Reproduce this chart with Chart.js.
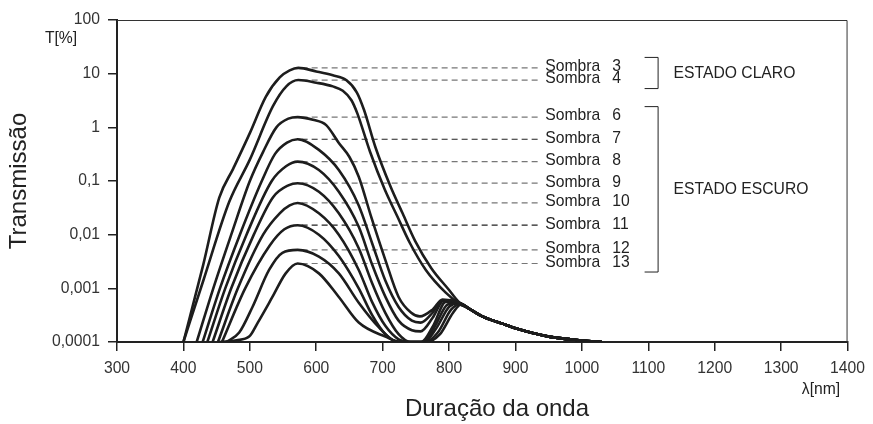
<!DOCTYPE html>
<html>
<head>
<meta charset="utf-8">
<script src="https://cdn.jsdelivr.net/npm/chart.js@4.4.0/dist/chart.umd.min.js"></script>
<style>
  body { margin: 0; background: #fff; }
  #wrap { width: 873px; height: 424px; position: relative; }
</style>
</head>
<body>
<div id="wrap"><canvas id="transmChart"></canvas></div>
<script>
// curvas: [comprimento de onda nm, T %]
var sombra3 = [[400,0.0001],[430,0.0028],[454,0.049],[475,0.17],[500,0.78],[524,3.7],[545,8.5],[560,11.5],[573,12.8],[600,11],[625,9.3],[645,7.6],[661,4.5],[672,2.1],[689,0.43],[712,0.078],[730,0.025],[749,0.0076],[773,0.0024],[800,0.00093],[815,0.00055]];
var sombra4 = [[400,0.0001],[430,0.0014],[469,0.041],[500,0.25],[535,2.5],[555,5.8],[573,7.6],[600,6.8],[625,5.8],[640,4.8],[653,3.2],[662,1.8],[681,0.35],[703,0.07],[722,0.022],[741,0.007],[765,0.0022],[795,0.00083],[815,0.00052]];
var sombra6 = [[420,0.0001],[445,0.001],[472,0.01],[500,0.1],[520,0.35],[540,1.0],[558,1.45],[572,1.55],[595,1.38],[615,1.1],[634,0.51],[650,0.28],[664,0.12],[683,0.021],[704,0.0034],[724,0.00069],[743,0.00035],[756,0.0003],[775,0.0004],[790,0.00062],[815,0.00054]];
var sombra7 = [[429,0.0001],[455,0.001],[485,0.01],[518,0.1],[538,0.32],[556,0.52],[572,0.6],[604,0.38],[634,0.16],[664,0.035],[684,0.007],[704,0.0014],[724,0.00045],[744,0.00025],[757,0.00023],[775,0.00035],[790,0.0006],[815,0.00054]];
var sombra8 = [[436,0.0001],[463,0.001],[495,0.01],[533,0.1],[555,0.19],[572,0.23],[604,0.16],[634,0.063],[664,0.014],[684,0.0028],[704,0.0007],[724,0.00025],[744,0.000166],[757,0.000158],[775,0.00028],[792,0.00059],[815,0.00054]];
var sombra9 = [[444,0.0001],[472,0.001],[506,0.01],[535,0.05],[558,0.083],[572,0.091],[604,0.063],[634,0.025],[664,0.0056],[684,0.00126],[704,0.00035],[724,0.00014],[742,0.0001],[758,0.0001],[776,0.0002],[795,0.00056],[815,0.00054]];
var sombra10 = [[452,0.0001],[482,0.001],[520,0.01],[545,0.025],[560,0.035],[572,0.039],[604,0.025],[634,0.01],[664,0.0022],[684,0.00056],[704,0.0002],[724,0.000112],[740,0.0001],[760,0.0001],[778,0.00019],[798,0.0005],[815,0.00053]];
var sombra11 = [[458,0.0001],[493,0.001],[530,0.0063],[552,0.0126],[572,0.015],[604,0.01],[634,0.004],[664,0.001],[684,0.00032],[704,0.00014],[725,0.0001],[762,0.0001],[780,0.000174],[800,0.00045],[815,0.00053]];
var sombra12 = [[465,0.0001],[484,0.00015],[504,0.00045],[529,0.0022],[549,0.0046],[572,0.0052],[604,0.0039],[634,0.0019],[664,0.00054],[694,0.00019],[723,0.0001],[764,0.0001],[783,0.00015],[803,0.0004],[815,0.0005]];
var sombra13 = [[455,0.0001],[480,0.000108],[499,0.000126],[512,0.00023],[534,0.00069],[554,0.0019],[572,0.0029],[604,0.0019],[634,0.00069],[664,0.00023],[704,0.000126],[728,0.0001],[766,0.0001],[786,0.000138],[806,0.00035],[818,0.0005]];
// cauda comum a todas as curvas
var tailNm = [830, 850, 880, 900, 950, 1000, 1030];
var tailT = [0.00042, 0.0003, 0.00022, 0.00018, 0.000126, 0.000107, 0.0001];

var shadeNames = ['3', '4', '6', '7', '8', '9', '10', '11', '12', '13'];
var shadeCurves = [sombra3, sombra4, sombra6, sombra7, sombra8, sombra9, sombra10, sombra11, sombra12, sombra13];
var peakT = [12.8, 7.6, 1.55, 0.6, 0.23, 0.091, 0.039, 0.015, 0.0052, 0.0029];
var dashFrom = 578, dashTo = 938, labelNm = 945;
var groups = [{ name: 'ESTADO CLARO', first: 0, last: 1 }, { name: 'ESTADO ESCURO', first: 2, last: 9 }];

var yTickValues = [0.0001, 0.001, 0.01, 0.1, 1, 10, 100];
var yTickLabels = ['0,0001', '0,001', '0,01', '0,1', '1', '10', '100'];

var FONT = '"Liberation Sans", Arial, Helvetica, sans-serif';
var darkDash = ['7', '11'];

var datasets = [];
shadeCurves.forEach(function (curve) {
    var pts = curve.map(function (p) { return { x: p[0], y: p[1] }; });
    tailNm.forEach(function (nm, i) { pts.push({ x: nm, y: tailT[i] }); });
    datasets.push({
        data: pts,
        borderColor: '#1d1d1d',
        borderWidth: 2.6,
        pointRadius: 0,
        cubicInterpolationMode: 'monotone',
        fill: false
    });
});
shadeNames.forEach(function (n, i) {
    datasets.push({
        data: [{ x: dashFrom, y: peakT[i] }, { x: dashTo, y: peakT[i] }],
        borderColor: darkDash.indexOf(n) >= 0 ? '#222' : '#777',
        borderWidth: 1.2,
        borderDash: [6, 4],
        pointRadius: 0,
        tension: 0
    });
});

var annotations = {
    id: 'annotations',
    afterDraw: function (chart) {
        var ctx = chart.ctx, xs = chart.scales.x, ys = chart.scales.y, a = chart.chartArea;
        ctx.save();
        // moldura superior e direita
        ctx.strokeStyle = '#333';
        ctx.lineWidth = 1;
        ctx.beginPath();
        ctx.moveTo(a.left, a.top + 0.5);
        ctx.lineTo(a.right - 0.5, a.top + 0.5);
        ctx.lineTo(a.right - 0.5, a.bottom);
        ctx.stroke();

        ctx.fillStyle = '#222';
        ctx.font = '15.7px ' + FONT;
        ctx.textAlign = 'left';
        ctx.textBaseline = 'middle';
        var lx = xs.getPixelForValue(labelNm);
        shadeNames.forEach(function (n, i) {
            var y = ys.getPixelForValue(peakT[i]) - 1;
            ctx.fillText('Sombra', lx, y);
            ctx.fillText(n, lx + 67, y);
        });

        // colchetes
        var bx = xs.getPixelForValue(1114);
        ctx.strokeStyle = '#222';
        groups.forEach(function (g) {
            var top = ys.getPixelForValue(peakT[g.first]) - 11;
            var bot = ys.getPixelForValue(peakT[g.last]) + 8;
            ctx.beginPath();
            ctx.moveTo(bx - 13, top + 0.5);
            ctx.lineTo(bx + 0.5, top + 0.5);
            ctx.lineTo(bx + 0.5, bot + 0.5);
            ctx.lineTo(bx - 13, bot + 0.5);
            ctx.stroke();
            ctx.fillText(g.name, bx + 16, (top + bot) / 2 + 1);
        });

        // titulos
        ctx.textAlign = 'center';
        ctx.fillText('T[%]', 61, 39);
        ctx.fillText('λ[nm]', 821, 390);
        ctx.font = '24px ' + FONT;
        ctx.fillText('Duração da onda', 497, 409);
        ctx.translate(19, 181);
        ctx.rotate(-Math.PI / 2);
        ctx.fillText('Transmissão', 0, 0);
        ctx.restore();
    }
};

var config = {
    type: 'line',
    data: { datasets: datasets },
    options: {
        responsive: true,
        maintainAspectRatio: false,
        animation: false,
        layout: { padding: { top: 20, right: 21, left: 0, bottom: 0 } },
        plugins: { legend: { display: false }, tooltip: { enabled: false } },
        scales: {
            x: {
                type: 'linear',
                min: 300,
                max: 1400,
                afterFit: function (s) { s.height = 82; },
                ticks: {
                    stepSize: 100,
                    color: '#333',
                    padding: 8,
                    font: { size: 15.7, family: FONT },
                    callback: function (v) { return String(v); }
                },
                grid: { drawOnChartArea: false, drawTicks: true, tickLength: 9, color: '#222', lineWidth: 1.5 },
                border: { display: true, color: '#222', width: 2 }
            },
            y: {
                type: 'logarithmic',
                min: 0.0001,
                max: 100,
                afterFit: function (s) { s.width = 117; },
                afterBuildTicks: function (s) {
                    s.ticks = yTickValues.map(function (v) { return { value: v }; });
                },
                ticks: {
                    color: '#333',
                    padding: 8,
                    font: { size: 15.7, family: FONT },
                    callback: function (v) {
                        var i = yTickValues.indexOf(v);
                        return i >= 0 ? yTickLabels[i] : '';
                    }
                },
                grid: { drawOnChartArea: false, drawTicks: true, tickLength: 9, color: '#222', lineWidth: 1.5 },
                border: { display: true, color: '#222', width: 2 }
            }
        }
    },
    plugins: [annotations]
};

var transmChart = new Chart(document.getElementById('transmChart'), config);
</script>
</body>
</html>
